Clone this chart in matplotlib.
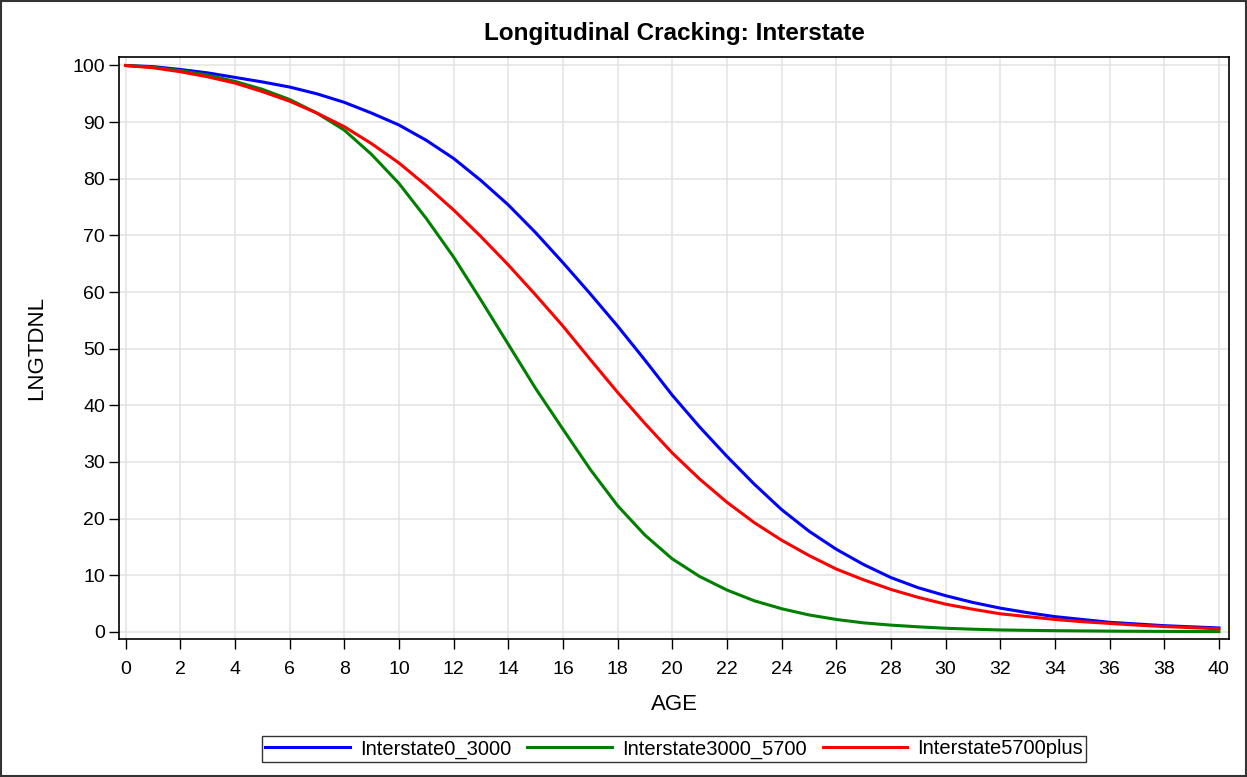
import numpy as np
import matplotlib.pyplot as plt
from matplotlib.patches import Rectangle

plt.rcParams['font.family'] = ['Liberation Sans', 'DejaVu Sans']

# ages 0..40, values
age = list(range(0, 41))

interstate0_3000 = [100, 99.8, 99.3, 98.7, 97.9, 97.1, 96.2, 95.0, 93.5, 91.6,
                    89.5, 86.8, 83.6, 79.7, 75.4, 70.5, 65.2, 59.7, 54.0, 48.0,
                    41.8, 36.2, 31.0, 26.1, 21.6, 17.8, 14.6, 11.9, 9.6, 7.8,
                    6.4, 5.2, 4.2, 3.4, 2.7, 2.2, 1.7, 1.4, 1.1, 0.9, 0.7]

interstate3000_5700 = [100, 99.7, 99.1, 98.3, 97.2, 95.8, 94.0, 91.6, 88.6, 84.3,
                       79.2, 73.0, 66.2, 58.6, 50.8, 43.0, 35.8, 28.7, 22.3, 17.1,
                       12.9, 9.8, 7.4, 5.5, 4.1, 3.0, 2.2, 1.6, 1.2, 0.9,
                       0.65, 0.48, 0.35, 0.28, 0.22, 0.18, 0.14, 0.11, 0.09, 0.07, 0.06]

interstate5700plus = [100, 99.6, 98.9, 98.0, 96.9, 95.4, 93.7, 91.6, 89.2, 86.2,
                      82.8, 78.8, 74.5, 69.8, 64.8, 59.5, 54.0, 48.1, 42.3, 36.8,
                      31.6, 27.0, 22.9, 19.3, 16.2, 13.5, 11.1, 9.2, 7.5, 6.1,
                      4.9, 4.0, 3.2, 2.7, 2.2, 1.8, 1.5, 1.2, 0.95, 0.75, 0.55]

series_names = ['Interstate0_3000', 'Interstate3000_5700', 'Interstate5700plus']
series_colors = ['#0000ff', '#008000', '#ff0000']

fig = plt.figure(figsize=(12.47, 7.77), dpi=100)
ax = fig.add_axes([119 / 1247, 1 - 639 / 777, 1110 / 1247, 582 / 777])

for vals, name, col in zip([interstate0_3000, interstate3000_5700, interstate5700plus],
                           series_names, series_colors):
    ax.plot(age, vals, color=col, lw=2.2, label=name, solid_joinstyle='round')

ax.set_xlim(-0.24, 40.37)
ax.set_ylim(-1.25, 101.5)
ax.set_xticks(np.arange(0, 41, 2))
ax.set_yticks(np.arange(0, 101, 10))
ax.grid(True, color='#e3e3e3', lw=1.1)
ax.set_axisbelow(True)

ax.tick_params(direction='out', length=7, width=1, labelsize=14, color='black')
ax.tick_params(axis='x', pad=9)
ax.tick_params(axis='y', pad=3)
for s in ax.spines.values():
    s.set_color('black')
    s.set_linewidth(1.2)

ax.set_xlabel('AGE', fontsize=16, labelpad=11)
ax.set_ylabel('LNGTDNL', fontsize=16, labelpad=18)
ax.set_title('Longitudinal Cracking: Interstate', fontsize=17.5, fontweight='bold', pad=12)

leg = fig.legend(loc='center', bbox_to_anchor=(674 / 1247, 1 - 749 / 777), ncol=3,
                 fontsize=14.5, frameon=True, fancybox=False, edgecolor='black',
                 handlelength=4.2, handletextpad=0.5, columnspacing=0.8,
                 borderpad=0.15, borderaxespad=0)
leg.get_frame().set_linewidth(1.0)

# outer border around the whole image
fig.patches.append(Rectangle((0.001, 0.001), 0.998, 0.998, transform=fig.transFigure,
                             fill=False, edgecolor='#333333', lw=1.5))

fig.savefig('out.png', dpi=100)
